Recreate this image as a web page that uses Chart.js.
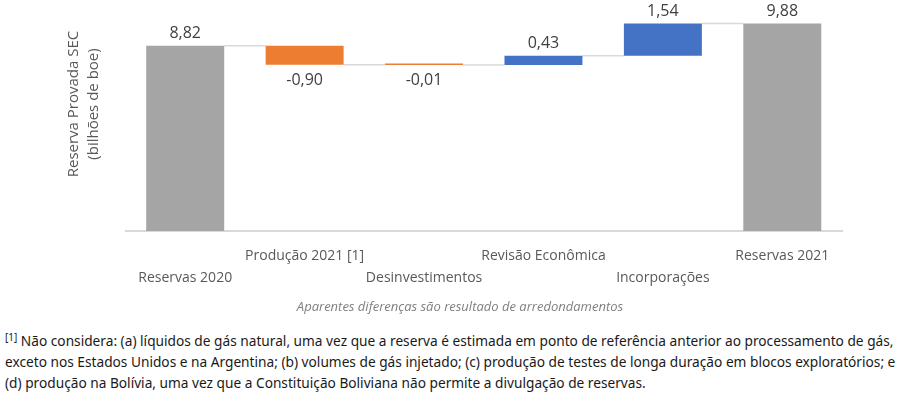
<!DOCTYPE html>
<html>
<head>
<meta charset="utf-8">
<script src="https://cdn.jsdelivr.net/npm/chart.js@4.4.1/dist/chart.umd.min.js"></script>
<style>
  body { margin: 0; background: #fff; }
  #wrap { position: relative; width: 904px; height: 394px; overflow: hidden; }
  #box { position: absolute; left: 0; top: 0; width: 904px; height: 299px; }
  .note {
    position: absolute; left: 0; width: 920px; top: 297px; text-align: center;
    font: italic 13px "Open Sans", sans-serif; color: #7f7f7f;
  }
  .foot {
    position: absolute; left: 5px; top: 330px; white-space: nowrap;
    font: 13.7px "Noto Sans", sans-serif; color: #1a1a1a; line-height: 21px;
  }
  .foot sup { font-size: 10px; line-height: 0; vertical-align: 5px; }
</style>
</head>
<body>
<div id="wrap">
  <div id="box"><canvas id="myChart"></canvas></div>
  <div class="note">Aparentes diferenças são resultado de arredondamentos</div>
  <div class="foot">
    <sup>[1]</sup> Não considera: (a) líquidos de gás natural, uma vez que a reserva é estimada em ponto de referência anterior ao processamento de gás,<br>
    exceto nos Estados Unidos e na Argentina; (b) volumes de gás injetado; (c) produção de testes de longa duração em blocos exploratórios; e<br>
    (d) produção na Bolívia, uma vez que a Constituição Boliviana não permite a divulgação de reservas.
  </div>
</div>
<script>
const categories = ['Reservas 2020', 'Produção 2021 [1]', 'Desinvestimentos', 'Revisão Econômica', 'Incorporações', 'Reservas 2021'];
const values = [8.82, -0.90, -0.01, 0.43, 1.54, 9.88];
const isTotal = [true, false, false, false, false, true];
const yTitle = ['Reserva Provada SEC', '(bilhões de boe)'];

const grayColor = '#a5a5a5';
const downColor = '#ed7d31';
const upColor = '#4472c4';

// floating bars: [start, end] of each step
let running = 0;
const ranges = [];
const ends = [];
for (let i = 0; i < values.length; i++) {
    if (isTotal[i]) {
        ranges.push([0, values[i]]);
        running = values[i];
    } else {
        ranges.push([running, running + values[i]]);
        running = running + values[i];
    }
    ends.push(running);
}
const colors = values.map((v, i) => isTotal[i] ? grayColor : (v < 0 ? downColor : upColor));

// staggered labels, two rows like the original
const labels = categories.map((c, i) => i % 2 == 0 ? ['', c] : [c, '']);

const connectorPlugin = {
    id: 'connectors',
    beforeDatasetsDraw(chart) {
        const ctx = chart.ctx;
        const meta = chart.getDatasetMeta(0);
        const y = chart.scales.y;
        ctx.save();
        ctx.strokeStyle = '#d9d9d9';
        ctx.lineWidth = 1.5;
        for (let i = 0; i < meta.data.length - 1; i++) {
            const a = meta.data[i], b = meta.data[i + 1];
            const py = y.getPixelForValue(ends[i]);
            ctx.beginPath();
            ctx.moveTo(a.x + a.width / 2, py);
            ctx.lineTo(b.x - b.width / 2, py);
            ctx.stroke();
        }
        ctx.restore();
    }
};

const valueLabelPlugin = {
    id: 'valueLabels',
    afterDatasetsDraw(chart) {
        const ctx = chart.ctx;
        const meta = chart.getDatasetMeta(0);
        const y = chart.scales.y;
        ctx.save();
        ctx.font = '16px "Open Sans", sans-serif';
        ctx.fillStyle = '#404040';
        ctx.textAlign = 'center';
        ctx.textBaseline = 'middle';
        meta.data.forEach((bar, i) => {
            const txt = values[i].toFixed(2).replace('.', ',');
            const top = y.getPixelForValue(Math.max(ranges[i][0], ranges[i][1]));
            const bottom = y.getPixelForValue(Math.min(ranges[i][0], ranges[i][1]));
            if (values[i] < 0) ctx.fillText(txt, bar.x, bottom + 16);
            else ctx.fillText(txt, bar.x, top - 12);
        });
        ctx.restore();
    }
};

const yTitlePlugin = {
    id: 'yTitle',
    afterDraw(chart) {
        const ctx = chart.ctx;
        ctx.save();
        ctx.font = '15px "Open Sans", sans-serif';
        ctx.fillStyle = '#595959';
        ctx.textAlign = 'center';
        ctx.textBaseline = 'middle';
        ctx.translate(84, 104);
        ctx.rotate(-Math.PI / 2);
        ctx.fillText(yTitle[0], 0, -10);
        ctx.fillText(yTitle[1], 0, 10);
        ctx.restore();
    }
};

let ctx = document.querySelector('#myChart').getContext('2d');
myChart = new Chart(ctx, {
    type: 'bar',
    data: {
        labels: labels,
        datasets: [{
            data: ranges,
            backgroundColor: colors,
            borderWidth: 0,
            minBarLength: 1.5,
            barPercentage: 0.653,
            categoryPercentage: 1
        }]
    },
    options: {
        responsive: true,
        maintainAspectRatio: false,
        animation: false,
        layout: {
            padding: { left: 125.5, right: 62, top: 21, bottom: 4 }
        },
        plugins: {
            legend: { display: false },
            tooltip: { enabled: false }
        },
        scales: {
            y: {
                display: false,
                min: 0,
                max: 10
            },
            x: {
                grid: { display: false },
                border: { color: '#d9d9d9', width: 2 },
                ticks: {
                    color: '#595959',
                    font: { size: 14, family: '"Open Sans", sans-serif', lineHeight: 1.57 },
                    padding: 6,
                    maxRotation: 0,
                    autoSkip: false
                }
            }
        }
    },
    plugins: [connectorPlugin, valueLabelPlugin, yTitlePlugin]
});
</script>
</body>
</html>
